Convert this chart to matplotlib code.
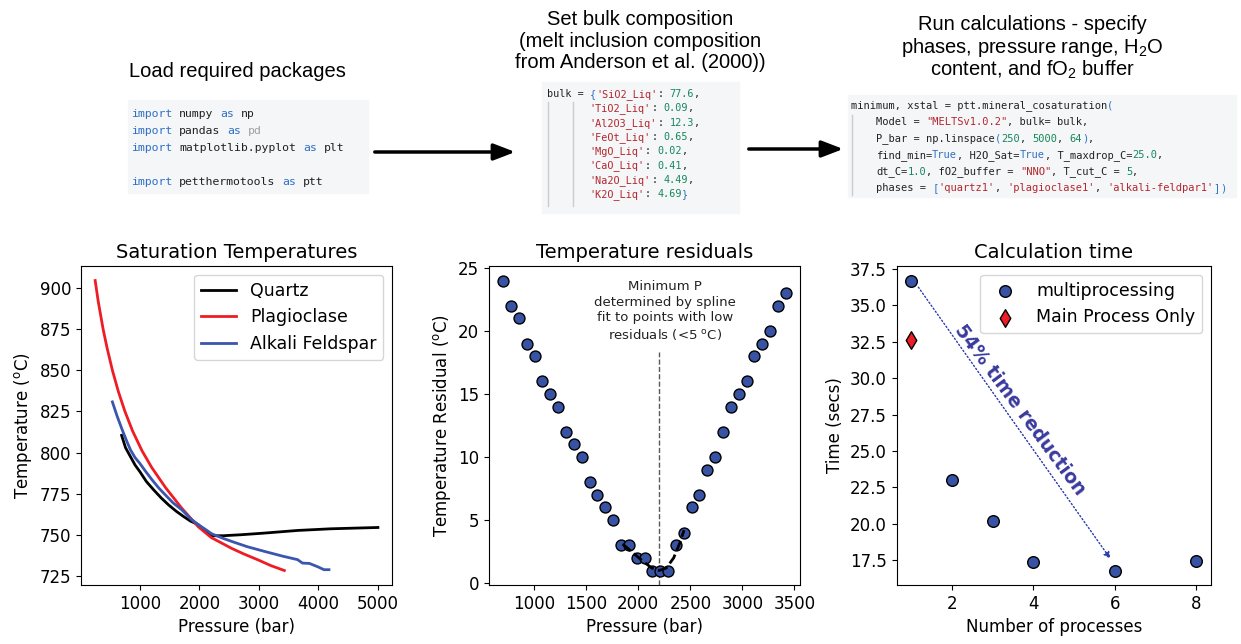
import re
import matplotlib
matplotlib.use("Agg")
import matplotlib.pyplot as plt

# saturation temperatures (panel 1)
qz_P = [694, 760, 844, 920, 1000, 1110, 1233, 1360, 1483, 1610, 1733, 1850, 1983, 2100, 2206,
        2400, 2700, 3094, 3650, 4206, 4600, 5000]
qz_T = [810.5, 803, 797.5, 792.5, 788.5, 782.5, 777.4, 772.5, 768.3, 764.5, 761.3, 758.5, 756.3,
        752.5, 749.6, 749.6, 750.2, 751.2, 752.8, 753.8, 754.2, 754.6]
pl_P = [250, 300, 383, 450, 539, 640, 750, 880, 1039, 1200, 1428, 1700, 1983, 2200, 2539, 2750,
        2983, 3200, 3428]
pl_T = [904.4, 892, 875, 863.5, 850, 837, 825, 813, 801, 791, 779, 766.5, 755, 748.5, 742, 738.5,
        735, 731.5, 728.5]
ak_P = [539, 620, 706, 780, 844, 920, 1000, 1100, 1206, 1320, 1428, 1560, 1706, 1850, 1983, 2100,
        2206, 2400, 2539, 2800, 3094, 3400, 3650, 3733, 3850, 4000, 4094, 4178]
ak_T = [830.8, 822, 813.7, 807, 801.6, 797, 793.5, 788.5, 783.5, 778.5, 774.4, 769.5, 765.3, 760,
        756.3, 753.5, 750.8, 748, 746.2, 743, 740.1, 737.2, 735.1, 733, 732.8, 730.6, 729, 729]

# residuals (panel 2)
res_P = [702, 778, 853, 929, 1004, 1079, 1155, 1230, 1306, 1381, 1456, 1532, 1607, 1683, 1758,
         1833, 1909, 1984, 2060, 2135, 2210, 2286, 2361, 2437, 2512, 2587, 2663, 2738, 2814, 2889,
         2964, 3040, 3115, 3191, 3266, 3341, 3417]
res_T = [24, 22, 21, 19, 18, 16, 15, 14, 12, 11, 10, 8, 7, 6, 5, 3, 3, 2, 2, 1, 1, 1, 3, 4, 6, 7,
         9, 10, 12, 14, 15, 16, 18, 19, 20, 22, 23]
spl_P = [1850, 1950, 2050, 2130, 2200, 2270, 2340, 2400, 2440]
spl_T = [3.1, 2.4, 1.7, 1.2, 1.0, 1.2, 2.0, 3.2, 4.2]
min_P = 2200

# calculation time (panel 3)
n_proc = [1, 2, 3, 4, 6, 8]
t_multi = [36.7, 23.0, 20.2, 17.4, 16.8, 17.45]
n_main = [1]
t_main = [32.6]

code1 = ["import numpy as np",
         "import pandas as pd",
         "import matplotlib.pyplot as plt",
         "",
         "import petthermotools as ptt"]
code2 = ["bulk = {'SiO2_Liq': 77.6,",
         "       'TiO2_Liq': 0.09,",
         "       'Al2O3_Liq': 12.3,",
         "       'FeOt_Liq': 0.65,",
         "       'MgO_Liq': 0.02,",
         "       'CaO_Liq': 0.41,",
         "       'Na2O_Liq': 4.49,",
         "       'K2O_Liq': 4.69}"]
code3 = ["minimum, xstal = ptt.mineral_cosaturation(",
         "    Model = \"MELTSv1.0.2\", bulk= bulk,",
         "    P_bar = np.linspace(250, 5000, 64),",
         "    find_min=True, H2O_Sat=True, T_maxdrop_C=25.0,",
         "    dt_C=1.0, fO2_buffer = \"NNO\", T_cut_C = 5,",
         "    phases = ['quartz1', 'plagioclase1', 'alkali-feldpar1'])"]

KW = '#3070c4'
STR = '#b3262e'
NUM = '#16875a'
TXT = '#222222'
GRY = '#a0a0a0'
tok = re.compile(r"('[^']*'|\"[^\"]*\"|\b\d+\.?\d*\b|\bimport\b|\bas\b|\bTrue\b|[\[\]{}()]|\bpd\b)")


def colour_of(t):
    if t[0] in "'\"":
        return STR
    if t[0].isdigit():
        return NUM
    if t == 'pd':
        return GRY
    if t in ('import', 'as', 'True') or t in '[]{}()':
        return KW
    return TXT


def draw_code(fig, ax, x, y, lines, size, step):
    # measure the real monospace advance as rendered
    probe = ax.text(0, 0, 'm' * 100, family='DejaVu Sans Mono', size=size)
    cw = probe.get_window_extent(fig.canvas.get_renderer()).width / 100
    probe.remove()
    for i, line in enumerate(lines):
        segs = []
        pos = 0
        for m in tok.finditer(line):
            if m.start() > pos:
                segs.append((pos, line[pos:m.start()], TXT))
            segs.append((m.start(), m.group(0), colour_of(m.group(0))))
            pos = m.end()
        if pos < len(line):
            segs.append((pos, line[pos:], TXT))
        for col, t, c in segs:
            lead = len(t) - len(t.lstrip())
            t = t.strip()
            if not t:
                continue
            ax.text(x + (col + lead) * cw, y + i * step, t, color=c, family='DejaVu Sans Mono',
                    size=size, va='baseline', ha='left')


fig = plt.figure(figsize=(12.41, 6.44), dpi=100)

# top row drawn in pixel coords
top = fig.add_axes([0, 0, 1, 1], zorder=-1)
top.set_xlim(0, 1241)
top.set_ylim(644, 0)
top.axis('off')

box_col = '#f5f6f7'
top.add_patch(plt.Rectangle((128, 100), 240, 93, color=box_col))
top.add_patch(plt.Rectangle((542, 82), 197, 131, color=box_col))
top.add_patch(plt.Rectangle((848, 95), 388, 102, color=box_col))
top.plot([548, 548], [102, 206], color='#cccccc', lw=1)
top.plot([573, 573], [102, 206], color='#cccccc', lw=1)
top.plot([852, 852], [115, 195], color='#cccccc', lw=1)

draw_code(fig, top, 131, 117, code1, 8.25, 16.9)
draw_code(fig, top, 547, 97, code2, 7.3, 14.3)
draw_code(fig, top, 851, 108.5, code3, 7.45, 16.5)

hfont = dict(family='Liberation Sans', size=14.5, ha='center', va='baseline',
             math_fontfamily='custom')
plt.rcParams['mathtext.rm'] = 'Liberation Sans'
plt.rcParams['mathtext.it'] = 'Liberation Sans:italic'
top.text(237, 77, "Load required packages", **hfont)
for i, s in enumerate(["Set bulk composition", "(melt inclusion composition",
                       "from Anderson et al. (2000))"]):
    top.text(640, 25 + i * 21.7, s, **hfont)
for i, s in enumerate(["Run calculations - specify", r"phases, pressure range, H$_2$O",
                       r"content, and fO$_2$ buffer"]):
    top.text(1032, 30 + i * 23, s, **hfont)

arr = dict(arrowstyle='-|>,head_length=1.3,head_width=0.5', color='black', lw=2.5)
top.annotate('', xy=(518, 152), xytext=(372, 152), arrowprops=arr)
top.annotate('', xy=(846, 149), xytext=(746, 149), arrowprops=arr)

# panel 1
ax1 = fig.add_axes([0.0653, 0.0916, 0.2506, 0.4953])
ax1.plot(qz_P, qz_T, color='black', lw=2, label='Quartz')
ax1.plot(pl_P, pl_T, color='#ee1c24', lw=2, label='Plagioclase')
ax1.plot(ak_P, ak_T, color='#3a56ae', lw=2, label='Alkali Feldspar')
ax1.set_xlabel('Pressure (bar)', fontsize=12)
ax1.set_ylabel(r'Temperature ($^{\mathrm{o}}$C)', fontsize=12)
ax1.set_title('Saturation Temperatures', fontsize=14)
ax1.tick_params(labelsize=12)
ax1.legend(loc='upper right', fontsize=12.5)

# panel 2
blue = '#3953a4'
ax2 = fig.add_axes([0.394, 0.0916, 0.2506, 0.4953])
ax2.axvline(min_P, ymax=0.73, color='0.35', ls='--', lw=1)
ax2.scatter(res_P, res_T, s=62, c=blue, edgecolors='black', linewidths=1, zorder=3)
ax2.plot(spl_P, spl_T, color='black', ls='--', lw=2, zorder=4)
ax2.text(2260, 19.1, "Minimum P\ndetermined by spline\nfit to points with low\n"
         r"residuals (<5 $^{\mathrm{o}}$C)", ha='center', va='bottom', fontsize=9.5,
         linespacing=1.25, color='#222222')
ax2.set_xlabel('Pressure (bar)', fontsize=12)
ax2.set_ylabel(r'Temperature Residual ($^{\mathrm{o}}$C)', fontsize=12)
ax2.set_title('Temperature residuals', fontsize=14)
ax2.tick_params(labelsize=12)

# panel 3
ax3 = fig.add_axes([0.7226, 0.0916, 0.253, 0.4953])
ax3.scatter(n_proc, t_multi, s=70, c=blue, edgecolors='black', linewidths=1, zorder=3,
            label='multiprocessing')
ax3.scatter(n_main, t_main, s=80, c='#ee1c24', marker='d', edgecolors='black', linewidths=1,
            zorder=3, label='Main Process Only')
ax3.annotate('', xy=(5.93, 17.45), xytext=(1.14, 36.4),
             arrowprops=dict(arrowstyle='-|>', ls=':', color='#2d3cae', lw=1))
ax3.text(3.68, 27.85, '54% time reduction', rotation=-53.5, rotation_mode='anchor',
         ha='center', va='center', fontsize=13.5, fontweight='bold', color='#3a3a9e')
ax3.set_xlabel('Number of processes', fontsize=12)
ax3.set_ylabel('Time (secs)', fontsize=12)
ax3.set_title('Calculation time', fontsize=14)
ax3.tick_params(labelsize=12)
ax3.legend(loc='upper right', fontsize=12.5)

fig.savefig('out.png', dpi=100)
